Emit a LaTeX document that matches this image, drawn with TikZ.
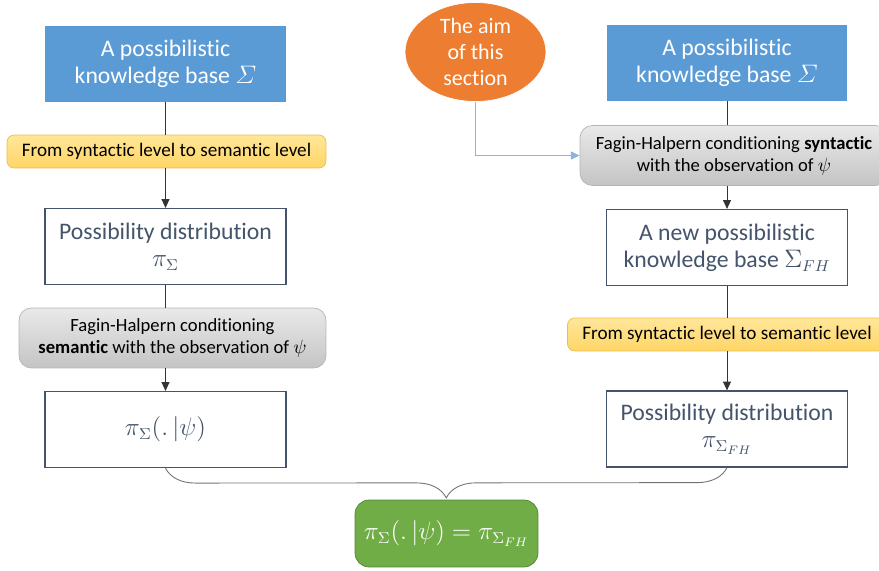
\documentclass[tikz,border=0pt]{standalone}
\usepackage{amsmath}
\usepackage{amssymb}
\usepackage{fontspec}
\setmainfont{Carlito}[Ligatures=NoCommon]
\usepackage{tikz}
\usetikzlibrary{shapes.geometric,arrows.meta,decorations.pathreplacing}

\definecolor{kbblue}{HTML}{5B9BD5}
\definecolor{aimorange}{HTML}{ED7D31}
\definecolor{slate}{HTML}{44546A}
\definecolor{resgreen}{HTML}{70AD47}
\definecolor{resgreenedge}{HTML}{548235}
\definecolor{goldtop}{HTML}{FFE699}
\definecolor{goldbot}{HTML}{FFD666}
\definecolor{goldedge}{HTML}{EDBE4A}
\definecolor{greytop}{HTML}{E9E9E9}
\definecolor{greybot}{HTML}{C4C4C4}
\definecolor{greyedge}{HTML}{B5B5B5}
\definecolor{aimline}{HTML}{8DB3E2}

\tikzset{
  kbbox/.style={rectangle, fill=kbblue, text=white, align=center,
    minimum width=4.82cm, minimum height=1.52cm, font=\fontsize{13.5}{15.5}\selectfont},
  distbox/.style={rectangle, draw=slate, line width=0.7pt, fill=white, text=slate, align=center,
    minimum width=4.82cm, minimum height=1.52cm, font=\fontsize{13.5}{15.5}\selectfont},
  levellbl/.style={rectangle, rounded corners=4pt, draw=goldedge, top color=goldtop, bottom color=goldbot,
    minimum width=6.38cm, minimum height=0.66cm, font=\fontsize{10.9}{12.5}\selectfont},
  fhlbl/.style={rectangle, rounded corners=7pt, draw=greyedge, top color=greytop, bottom color=greybot,
    align=center, minimum height=1.2cm, font=\fontsize{10.6}{12.5}\selectfont},
  aimnode/.style={ellipse, fill=aimorange, draw=white, text=white, align=center, inner sep=0pt,
    minimum width=2.82cm, minimum height=1.98cm, font=\fontsize{12.5}{14.8}\selectfont},
  resbox/.style={rectangle, rounded corners=8pt, fill=resgreen, draw=resgreenedge, text=white,
    minimum width=3.66cm, minimum height=1.34cm, font=\fontsize{13.3}{15}\selectfont},
  flow/.style={draw=black!80, line width=0.5pt},
  flowarr/.style={flow, -{Triangle[length=5pt,width=4.5pt]}},
}

\begin{document}
\begin{tikzpicture}[x=0.02cm, y=-0.02cm]

\useasboundingbox (0,0) rectangle (879,571);

% colonna sinistra
\node[kbbox] (kbL) at (165.5,64) {A possibilistic\\knowledge base $\varSigma$};
\node[levellbl] (synL) at (166.5,151.5) {From syntactic level to semantic level};
\node[distbox] (distL) at (165.5,246.5) {Possibility distribution\\$\pi_{\Sigma}$};
\node[fhlbl, minimum width=6.14cm] (fhL) at (172.5,338) {Fagin-Halpern conditioning\\\textbf{semantic} with the observation of $\psi$};
\node[distbox] (condL) at (165.5,429.5) {$\pi_{\Sigma}(.\,|\psi)$};

% colonna destra
\node[aimnode] (aim) at (475.5,52) {The aim\\of this\\section};
\node[kbbox] (kbR) at (727,63) {A possibilistic\\knowledge base $\varSigma$};
\node[fhlbl, minimum width=6.16cm] (fhR) at (734,155.5) {Fagin-Halpern conditioning \textbf{syntactic}\\with the observation of $\psi$};
\node[distbox] (kbFH) at (727,247.5) {A new possibilistic\\knowledge base $\Sigma_{FH}$};
\node[levellbl] (synR) at (727,334.5) {From syntactic level to semantic level};
\node[distbox] (distR) at (727,429) {Possibility distribution\\$\pi_{\Sigma_{FH}}$};

\node[resbox] (res) at (446.5,533.5) {$\pi_{\Sigma}(.\,|\psi)=\pi_{\Sigma_{FH}}$};

% Archi
\draw[flow] (kbL.south) -- (kbL.south |- synL.north);
\draw[flowarr] (kbL.south |- synL.south) -- (distL.north);
\draw[flow] (distL.south) -- (distL.south |- fhL.north);
\draw[flowarr] (distL.south |- fhL.south) -- (condL.north);

\draw[flow] (kbR.south) -- (kbR.south |- fhR.north);
\draw[flowarr] (kbR.south |- fhR.south) -- (kbFH.north);
\draw[flow] (kbFH.south) -- (kbFH.south |- synR.north);
\draw[flowarr] (kbFH.south |- synR.south) -- (distR.north);

\draw[draw=aimline, line width=0.7pt, -{Triangle[length=5pt,width=4.5pt]}] (aim.south) |- (fhR.west);

\draw[draw=black!55, line width=0.5pt, decorate, decoration={brace, mirror, amplitude=0.6cm}]
  (condL.south) -- (distR.south);

\end{tikzpicture}
\end{document}
